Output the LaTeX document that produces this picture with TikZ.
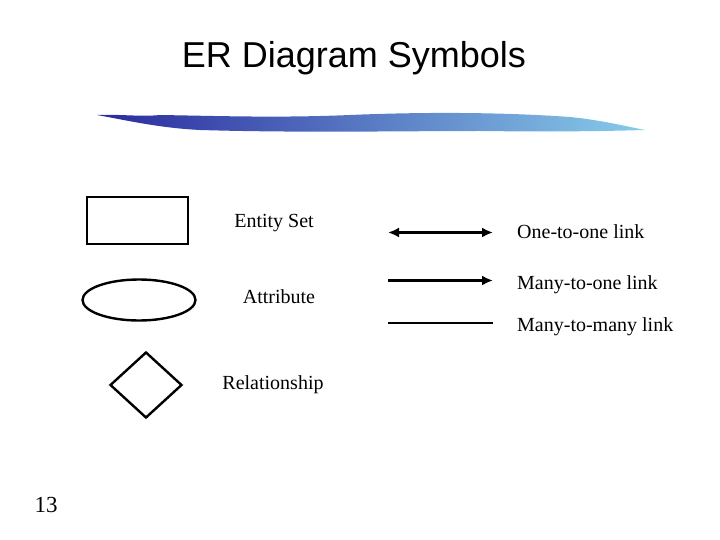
\documentclass[tikz,border=0pt]{standalone}
\usepackage{fontspec}
\setmainfont{Liberation Serif}
\newfontfamily\arialfont{Liberation Sans}
\usetikzlibrary{shapes.geometric,arrows.meta}
\definecolor{brushdark}{HTML}{2A2A9E}
\definecolor{brushmid}{HTML}{4F72C8}
\definecolor{brushlight}{HTML}{88CCEA}
\tikzset{
  shapeline/.style={draw=black, line width=2.4pt},
  lbl/.style={font=\fontsize{20}{22}\selectfont, inner sep=0pt},
  linkline/.style={draw=black, line width=2.4pt},
  >={Latex[length=11pt,width=10pt]},
}
\begin{document}
\begin{tikzpicture}[x=1pt,y=-1pt]
\useasboundingbox (0,0) rectangle (720,540);
% title
\node[font=\arialfont\fontsize{36}{40}\selectfont, inner sep=0pt] (title) at (354,58) {ER Diagram Symbols};
% brush stroke
\shade[left color=brushdark, middle color=brushmid, right color=brushlight]
  (97,115) .. controls (120,114) and (140,117) .. (160,115)
  .. controls (220,116) and (280,118) .. (350,115)
  .. controls (420,112) and (500,112) .. (570,117)
  .. controls (600,120) and (625,126) .. (645,130)
  .. controls (610,131) and (560,132) .. (480,131)
  .. controls (400,131) and (300,133) .. (200,130)
  .. controls (160,128) and (130,121) .. (97,115) -- cycle;
% symbols
\node[shapeline, rectangle, minimum width=101pt, minimum height=47pt, inner sep=0pt] (ent) at (137.5,220.5) {};
\node[shapeline, ellipse, minimum width=113pt, minimum height=41pt, inner sep=0pt] (att) at (139,300) {};
\node[shapeline, diamond, minimum width=72pt, minimum height=66pt, inner sep=0pt] (rel) at (146,385) {};
\node[lbl, anchor=base] (entl) at (274,227) {Entity Set};
\node[lbl, anchor=base] (attl) at (279,303) {Attribute};
\node[lbl, anchor=base] (rell) at (273,389) {Relationship};
% links
\coordinate (a1) at (388,232.5);
\coordinate (b1) at (493,232.5);
\coordinate (a2) at (388,280.5);
\coordinate (b2) at (493,280.5);
\coordinate (a3) at (388,323);
\coordinate (b3) at (493,323);
\draw[linkline, <->] (a1) -- (b1);
\draw[linkline, ->] (a2) -- (b2);
\draw[linkline] (a3) -- (b3);
\node[lbl, anchor=base west] (l1) at (517,239) {One-to-one link};
\node[lbl, anchor=base west] (l2) at (517,289) {Many-to-one link};
\node[lbl, anchor=base west] (l3) at (517,331) {Many-to-many link};
\node[font=\fontsize{23}{25}\selectfont, inner sep=0pt, anchor=base] (num) at (46,512) {13};
\end{tikzpicture}
\end{document}
